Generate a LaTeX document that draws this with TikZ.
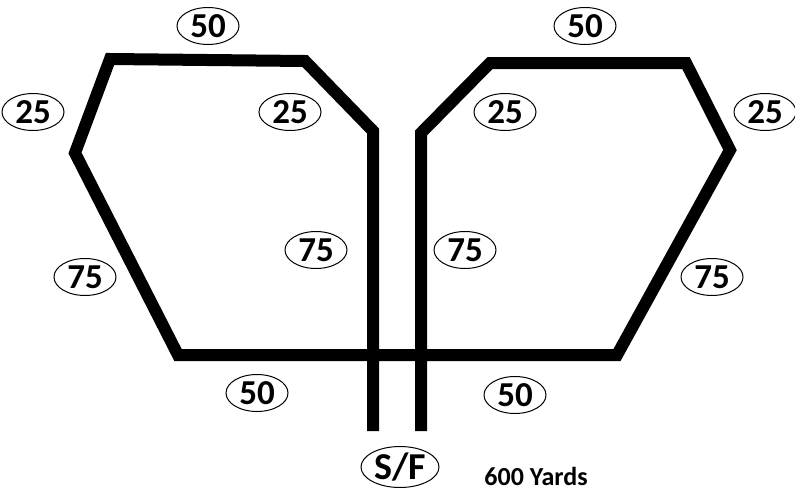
\documentclass[tikz,border=0pt]{standalone}
\usepackage{fontspec}
\setmainfont{Carlito}
\usetikzlibrary{shapes.geometric}
\tikzset{
  track/.style={line width=12pt, line join=miter, line cap=butt},
  dist/.style={ellipse, draw, line width=1pt, inner sep=0pt, minimum width=62pt, minimum height=37pt, font=\fontsize{35}{36}\selectfont\bfseries},
  sf/.style={ellipse, draw, line width=1pt, inner sep=0pt, minimum width=78pt, minimum height=41pt, font=\fontsize{38}{39}\selectfont\bfseries},
  note/.style={font=\fontsize{26}{27}\selectfont\bfseries, inner sep=0pt}
}
\begin{document}
\begin{tikzpicture}[x=1pt,y=-1pt]
\useasboundingbox (0,0) rectangle (795,496);
% track corners
\coordinate (s1) at (373,431);
\coordinate (a1) at (373,131);
\coordinate (a2) at (305,61);
\coordinate (a3) at (110,59);
\coordinate (a4) at (75,153);
\coordinate (a5) at (178,355);
\coordinate (b5) at (617,355);
\coordinate (b4) at (730,150);
\coordinate (b3) at (686,63);
\coordinate (b2) at (490,63);
\coordinate (b1) at (421,133);
\coordinate (s2) at (421,431);
\draw[track] (s1) -- (a1) -- (a2) -- (a3) -- (a4) -- (a5) -- (b5) -- (b4) -- (b3) -- (b2) -- (b1) -- (s2);
% distances
\node[dist] (l50t) at (208,26) {50};
\node[dist] (l25o) at (33,112) {25};
\node[dist] (l25i) at (290,112) {25};
\node[dist] (l75o) at (85,277) {75};
\node[dist] (l75i) at (316,250) {75};
\node[dist] (l50b) at (257,393) {50};
\node[dist] (r50t) at (585,26) {50};
\node[dist] (r25i) at (505,112) {25};
\node[dist] (r25o) at (765,112) {25};
\node[dist] (r75i) at (465,250) {75};
\node[dist] (r75o) at (712,277) {75};
\node[dist] (r50b) at (515,395) {50};
\node[sf] (sf) at (400,467) {S/F};
\node[note] (yards) at (536,476) {600 Yards};
\end{tikzpicture}
\end{document}
